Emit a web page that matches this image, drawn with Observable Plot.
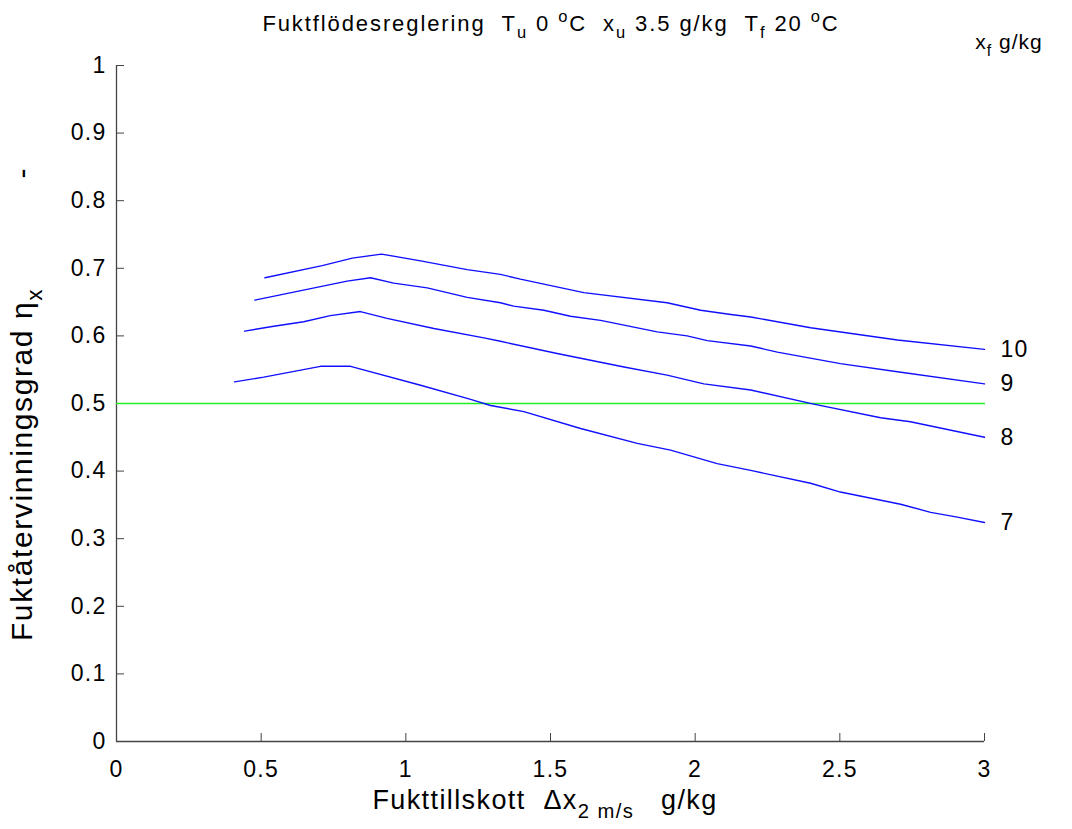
<!DOCTYPE html>
<html>
<head>
<meta charset="utf-8">
<script src="https://cdn.jsdelivr.net/npm/d3@7"></script>
<script src="https://cdn.jsdelivr.net/npm/@observablehq/plot@0.6"></script>
<style>
  html, body { margin: 0; padding: 0; background: #fff; }
  #wrap { position: relative; width: 1072px; height: 829px; font-family: "Liberation Sans", Arial, sans-serif; color: #000; }
  .lbl { position: absolute; white-space: nowrap; transform: translate(-50%, -50%); line-height: 1; }
  .sub { font-size: 75%; position: relative; top: 0.45em; }
  .sup { font-size: 75%; position: relative; top: -0.55em; }
</style>
</head>
<body>
<div id="wrap">
  <div id="chart"></div>
  <div class="lbl" id="title" style="left:551px; top:24px; font-size:22px; letter-spacing:1.9px;">Fuktflödesreglering&nbsp;&nbsp;T<span class="sub">u</span> 0 <span class="sup">o</span>C&nbsp;&nbsp;x<span class="sub">u</span> 3.5 g/kg&nbsp;&nbsp;T<span class="sub">f</span> 20 <span class="sup">o</span>C</div>
  <div class="lbl" id="xf" style="left:1009px; top:41px; font-size:21px; letter-spacing:1px;">x<span class="sub">f</span> g/kg</div>
  <div class="lbl" id="xlabel" style="left:545px; top:800px; font-size:27px; letter-spacing:1.4px;">Fukttillskott&nbsp;&nbsp;Δx<span class="sub">2 m/s</span>&nbsp;&nbsp;&nbsp;g/kg</div>
  <div class="lbl" id="ylabel" style="left:22px; top:404px; font-size:30px; letter-spacing:1.6px; transform: translate(-50%, -50%) rotate(-90deg);">Fuktåtervinningsgrad η<span class="sub">x</span>&nbsp;&nbsp;&nbsp;&nbsp;&nbsp;&nbsp;&nbsp;&nbsp;&nbsp;&nbsp;&nbsp;-</div>
</div>
<script>
// x_f = 10 g/kg
const x10 = [0.513, 0.711, 0.815, 0.916, 1.051, 1.212, 1.327, 1.396, 1.615, 1.903, 2.019, 2.117, 2.192, 2.399, 2.699, 3.0];
const y10 = [0.686, 0.704, 0.715, 0.721, 0.711, 0.698, 0.691, 0.684, 0.664, 0.649, 0.638, 0.632, 0.628, 0.612, 0.594, 0.580];
// x_f = 9 g/kg
const x9 = [0.478, 0.797, 0.878, 0.958, 1.074, 1.212, 1.327, 1.373, 1.477, 1.569, 1.673, 1.869, 1.972, 2.042, 2.192, 2.284, 2.502, 2.699, 3.0];
const y9 = [0.653, 0.681, 0.686, 0.678, 0.671, 0.657, 0.649, 0.644, 0.638, 0.629, 0.623, 0.606, 0.600, 0.593, 0.585, 0.576, 0.559, 0.547, 0.529];
// x_f = 8 g/kg
const x8 = [0.443, 0.538, 0.647, 0.739, 0.843, 0.935, 1.097, 1.270, 1.327, 1.523, 1.754, 1.903, 2.030, 2.192, 2.410, 2.641, 2.744, 3.0];
const y8 = [0.607, 0.614, 0.621, 0.630, 0.636, 0.626, 0.611, 0.597, 0.592, 0.574, 0.554, 0.542, 0.529, 0.520, 0.499, 0.479, 0.473, 0.450];
// x_f = 7 g/kg
const x7 = [0.408, 0.509, 0.705, 0.809, 1.051, 1.224, 1.293, 1.408, 1.604, 1.800, 1.915, 2.076, 2.192, 2.399, 2.502, 2.710, 2.814, 2.906, 3.0];
const y7 = [0.532, 0.539, 0.555, 0.555, 0.527, 0.506, 0.497, 0.488, 0.463, 0.441, 0.431, 0.411, 0.401, 0.382, 0.369, 0.351, 0.339, 0.332, 0.324];

const seriesNames = ["10", "9", "8", "7"];
const seriesX = [x10, x9, x8, x7];
const seriesY = [y10, y9, y8, y7];

const refLevel = [0.5];
const refRange = [0, 3];

const xTicks = [0, 0.5, 1, 1.5, 2, 2.5, 3];
const xTickLabels = ["0", "0.5", "1", "1.5", "2", "2.5", "3"];
const yTicks = [0, 0.1, 0.2, 0.3, 0.4, 0.5, 0.6, 0.7, 0.8, 0.9, 1];
const yTickLabels = ["0", "0.1", "0.2", "0.3", "0.4", "0.5", "0.6", "0.7", "0.8", "0.9", "1"];

const rows = seriesNames.flatMap((name, i) => seriesX[i].map((x, j) => ({series: name, x, y: seriesY[i][j]})));
const ends = seriesNames.map((name, i) => ({series: name, x: seriesX[i][seriesX[i].length - 1], y: seriesY[i][seriesY[i].length - 1]}));
const refRows = refRange.map(x => ({x, y: refLevel[0]}));

const chart = Plot.plot({
  width: 1072,
  height: 829,
  marginLeft: 116,
  marginRight: 88,
  marginTop: 65,
  marginBottom: 88,
  style: {fontFamily: "'Liberation Sans', Arial, sans-serif", fontSize: "23px", color: "#000", background: "#fff", letterSpacing: "1.3px"},
  x: {domain: [0, 3], ticks: xTicks, label: null},
  y: {domain: [0, 1], ticks: yTicks, label: null},
  marks: [
    Plot.axisX({ticks: xTicks, tickFormat: (d) => xTickLabels[xTicks.indexOf(d)], tickSize: -8, tickPadding: 27, stroke: "#444", fontSize: 23, label: null}),
    Plot.axisY({ticks: yTicks, tickFormat: (d) => yTickLabels[yTicks.findIndex(t => Math.abs(t - d) < 1e-9)], tickSize: -8, tickPadding: 18, stroke: "#444", fontSize: 23, label: null}),
    Plot.ruleX([0], {stroke: "#444", strokeWidth: 1.3}),
    Plot.ruleY([0], {stroke: "#444", strokeWidth: 1.3}),
    Plot.line(refRows, {x: "x", y: "y", stroke: "#22ee22", strokeWidth: 1.3}),
    Plot.line(rows, {x: "x", y: "y", z: "series", stroke: "#1010ff", strokeWidth: 1.4}),
    Plot.text(ends, {x: "x", y: "y", text: "series", textAnchor: "start", dx: 16, dy: 0, fontSize: 23, fill: "#000"})
  ]
});
document.getElementById("chart").appendChild(chart);
</script>
</body>
</html>
